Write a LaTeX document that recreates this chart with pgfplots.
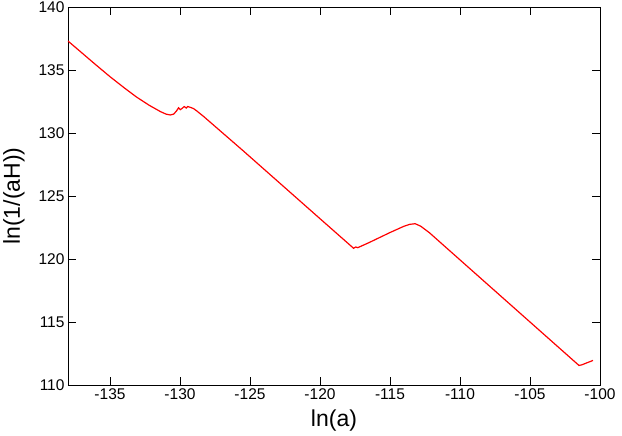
\documentclass[border=0pt]{standalone}
\usepackage{fontspec}
\setmainfont{Liberation Sans}
\usepackage{pgfplots}
\pgfplotsset{compat=1.18}

\begin{document}
\begin{tikzpicture}
\useasboundingbox (-68pt,-51pt) rectangle (554pt,385pt);
\begin{axis}[
  scale only axis, width=532pt, height=378pt,
  at={(0,0)}, anchor=south west,
  xmin=-138, xmax=-100, ymin=110, ymax=140,
  xtick={-135,-130,...,-100}, ytick={110,115,...,140},
  tick align=inside, major tick length=8pt,
  tick style={black, line width=0.8pt},
  axis line style={black, line width=0.9pt},
  /pgf/number format/assume math mode=true,
  /pgf/number format/.cd, set thousands separator={}, /pgfplots/.cd,
  tick label style={font=\fontsize{15.5}{17}\selectfont},
  xlabel={ln(a)}, ylabel={ln(1/(aH))},
  label style={font=\fontsize{23}{26}\selectfont},
  xlabel style={yshift=-3pt},
  ylabel style={yshift=7pt},
]
\addplot[red, line width=1.2pt] coordinates {
(-138,137.3) (-137,136.35) (-136,135.4) (-135,134.47) (-134,133.6)
(-133.1,132.85) (-132.2,132.2) (-131.4,131.7) (-131,131.5) (-130.7,131.43)
(-130.45,131.5) (-130.25,131.75) (-130.1,132.0) (-129.98,131.85)
(-129.85,131.95) (-129.7,132.1) (-129.55,131.98) (-129.45,132.1)
(-129.3,132.05) (-129.05,131.95) (-128.8,131.75) (-128.3,131.3)
(-125.5,128.6) (-120,123.2) (-117.6,120.85) (-117.45,120.95)
(-117.3,120.9) (-116.5,121.3) (-115,122.1) (-114,122.6) (-113.6,122.75)
(-113.2,122.8) (-112.8,122.6) (-112.2,122.1) (-110,119.93) (-105,115.0)
(-101.5,111.55) (-101.3,111.6) (-100.5,111.95)
};
\end{axis}
\end{tikzpicture}
\end{document}
